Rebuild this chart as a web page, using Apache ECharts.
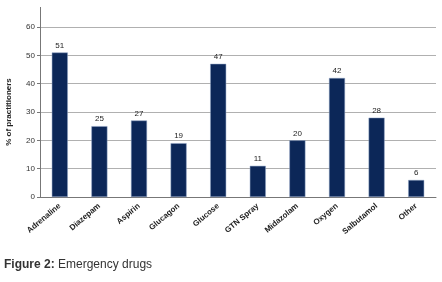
<!DOCTYPE html>
<html>
<head>
<meta charset="utf-8">
<script src="https://cdn.jsdelivr.net/npm/echarts@6/dist/echarts.min.js"></script>
<style>
  html, body { margin: 0; padding: 0; background: #fff; }
  #chart { width: 442px; height: 282px; }
</style>
</head>
<body>
<div id="chart"></div>
<script>
// 数据
const drugs = ["Adrenaline", "Diazepam", "Aspirin", "Glucagon", "Glucose", "GTN Spray", "Midazolam", "Oxygen", "Salbutamol", "Other"];
const percent = [51, 25, 27, 19, 47, 11, 20, 42, 28, 6];
const yTicks = [0, 10, 20, 30, 40, 50, 60];

let myChart = echarts.init(document.getElementById("chart"));
let option = {
  animation: false,
  color: ["#0c2758"],
  textStyle: { fontFamily: "Liberation Sans" },
  grid: {
    top: 27,
    left: 40,
    right: 6,
    bottom: 85,
    containLabel: false,
    outerBoundsMode: "none"
  },
  xAxis: {
    type: "category",
    data: drugs,
    axisLine: { lineStyle: { color: "#777", width: 1 } },
    axisTick: { show: false },
    axisLabel: {
      rotate: 40,
      interval: 0,
      fontSize: 8,
      fontWeight: "bold",
      color: "#222",
      margin: 8
    }
  },
  yAxis: {
    type: "value",
    min: yTicks[0],
    max: yTicks[yTicks.length - 1],
    interval: 10,
    name: "% of practitioners",
    nameLocation: "middle",
    nameGap: 27,
    nameTextStyle: { fontSize: 8, fontWeight: "bold", color: "#222" },
    axisLine: { show: true, lineStyle: { color: "#777", width: 1 } },
    axisTick: { show: true, length: 3, lineStyle: { color: "#777" } },
    axisLabel: { fontSize: 8, color: "#333", margin: 5 },
    splitLine: { lineStyle: { color: "#b0b0b0", width: 1 } }
  },
  series: [
    {
      type: "bar",
      barWidth: 16,
      data: percent,
      itemStyle: { borderColor: "#8fa3c4", borderWidth: 0.5 },
      label: {
        show: true,
        position: "top",
        distance: 3,
        fontSize: 8,
        color: "#222"
      }
    }
  ],
  graphic: [
    {
      // y轴顶部延伸
      type: "line",
      shape: { x1: 40.5, y1: 7, x2: 40.5, y2: 27 },
      style: { stroke: "#777", lineWidth: 1 }
    },
    {
      type: "text",
      left: 4,
      top: 259,
      style: {
        rich: {
          b: { fontFamily: "Liberation Sans", fontSize: 12, fontWeight: "bold", fill: "#333" },
          n: { fontFamily: "Liberation Sans", fontSize: 12, fill: "#333" }
        },
        text: "{b|Figure 2:} {n|Emergency drugs}"
      }
    }
  ]
};
myChart.setOption(option);
</script>
</body>
</html>
